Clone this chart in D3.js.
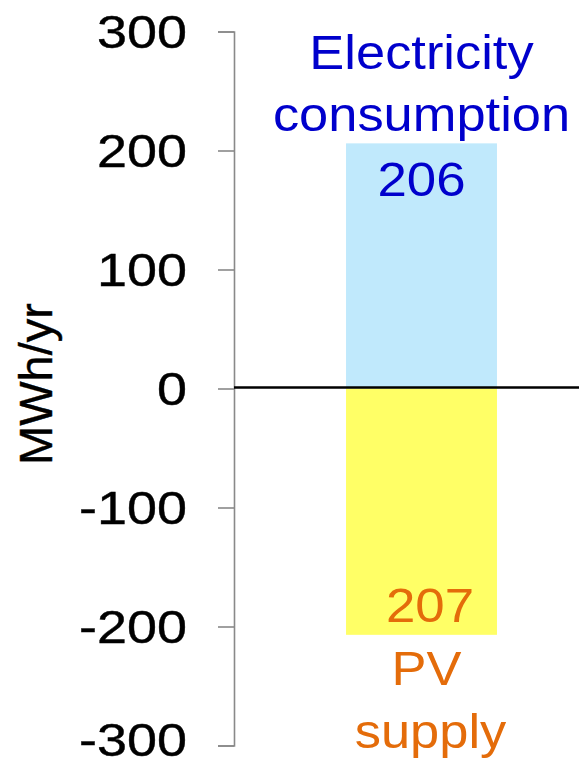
<!DOCTYPE html>
<html>
<head>
<meta charset="utf-8">
<script src="https://cdn.jsdelivr.net/npm/d3@7/dist/d3.min.js"></script>
<style>
  html, body { margin: 0; padding: 0; background: #fff; }
  svg { display: block; font-family: "Liberation Sans", Arial, sans-serif; }
</style>
</head>
<body>
<svg id="chart" width="579" height="765"></svg>
<script>
// Annual energy balance: consumption above zero, PV supply below
const groups = ["Annual"];
const seriesNames = ["Electricity consumption", "PV supply"];
const seriesValues = [206, -207];
const seriesLines = [["Electricity", "consumption"], ["PV", "supply"]];
const tickValues = [-300, -200, -100, 0, 100, 200, 300];
const axisTitle = "MWh/yr";

const barColors = ["#C0E9FC", "#FFFF66"];
const textColors = ["#0000CC", "#E46C0A"];

const svg = d3.select("#chart");
const W = 579, H = 765;
const axisX = 234;

const y = d3.scaleLinear().domain([-300, 300]).range([745.5, 31.5]);
const x = d3.scaleBand().domain(groups).range([axisX, 609]).paddingInner(0.426).paddingOuter(0.426);

// bars
const bars = seriesNames.map((name, i) => ({ name, value: seriesValues[i], i }));
svg.append("g").selectAll("rect").data(bars).join("rect")
  .attr("x", x("Annual"))
  .attr("width", x.bandwidth())
  .attr("y", d => y(Math.max(0, d.value)))
  .attr("height", d => Math.abs(y(d.value) - y(0)))
  .attr("fill", d => barColors[d.i]);

// y axis
const yAxis = d3.axisLeft(y).tickValues(tickValues).tickSize(16).tickPadding(0).tickFormat(d3.format("d"));
const gy = svg.append("g").attr("transform", `translate(${axisX},0)`).call(yAxis);
gy.select(".domain").attr("stroke", "#898989").attr("stroke-width", 1.6);
gy.selectAll(".tick line").attr("stroke", "#898989").attr("stroke-width", 1.6);
gy.selectAll(".tick text")
  .attr("x", null).attr("dy", null)
  .attr("fill", "#000")
  .attr("font-size", 46.5)
  .attr("text-anchor", "end")
  .attr("stroke", "#000").attr("stroke-width", 0.4)
  // the lowest label is nudged up so it stays inside the frame
  .attr("transform", d => `translate(-47,${d === -300 ? 9.5 : 15.5}) scale(1.16,1)`)
  .text(d => d3.format("d")(d).replace("−", "-"));

// zero line
svg.append("line")
  .attr("x1", axisX).attr("x2", W)
  .attr("y1", y(0) - 1).attr("y2", y(0) - 1)
  .attr("stroke", "#000").attr("stroke-width", 2.6);

// axis title
svg.append("text")
  .attr("transform", `translate(52,${384}) rotate(-90)`)
  .attr("text-anchor", "middle")
  .attr("font-size", 47)
  .attr("fill", "#000")
  .attr("stroke", "#000").attr("stroke-width", 0.4)
  .text(axisTitle);

const cx = x("Annual") + x.bandwidth() / 2;

// value labels
const valueLabelPos = [
  { dx: 0, baseline: y(seriesValues[0]) + 53 },
  { dx: 8.5, baseline: y(seriesValues[1]) - 12.5 }
];
svg.append("g").selectAll("text").data(bars).join("text")
  .attr("transform", d => `translate(${cx + valueLabelPos[d.i].dx},${valueLabelPos[d.i].baseline}) scale(1.1,1)`)
  .attr("text-anchor", "middle")
  .attr("font-size", 48)
  .attr("fill", d => textColors[d.i])
  .text(d => d3.format("d")(Math.abs(d.value)));

// series names
const nameBaselines = [[68.5, 131], [685, 748]];
const nameDx = [[0, 0], [5, 9]];
bars.forEach(d => {
  seriesLines[d.i].forEach((line, j) => {
    svg.append("text")
      .attr("transform", `translate(${cx + nameDx[d.i][j]},${nameBaselines[d.i][j]}) scale(1.07,1)`)
      .attr("text-anchor", "middle")
      .attr("font-size", 49)
      .attr("fill", textColors[d.i])
      .text(line);
  });
});
</script>
</body>
</html>
